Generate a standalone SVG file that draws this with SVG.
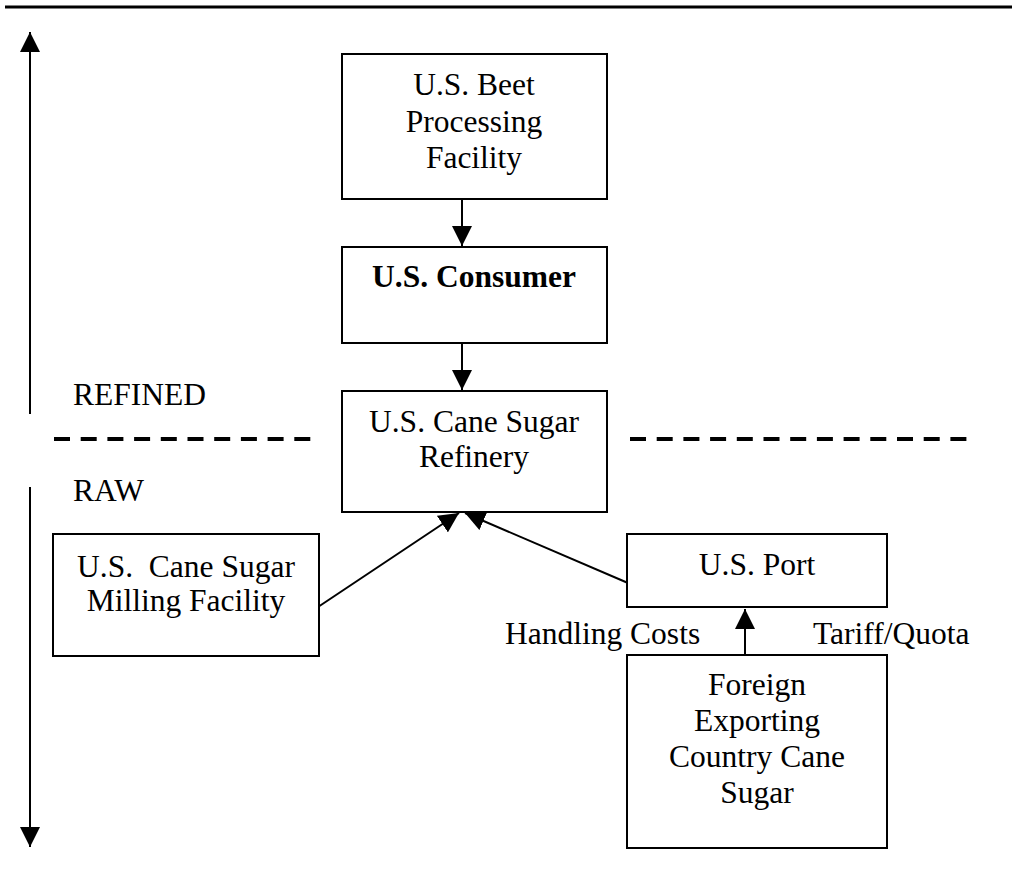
<svg xmlns="http://www.w3.org/2000/svg" width="1012" height="892" viewBox="0 0 1012 892">
<style>
.box{fill:#fff;stroke:#000;stroke-width:2}
.t{font-family:"Liberation Serif","Times New Roman",serif;font-size:31.5px;fill:#000}
.c{text-anchor:middle}
.b{font-weight:bold}
.ln{stroke:#000;stroke-width:2;fill:none}
.dash{stroke:#000;stroke-width:4;stroke-dasharray:16 10.7;fill:none}
</style>
<defs>
<marker id="ah" markerUnits="userSpaceOnUse" markerWidth="20" markerHeight="20" refX="20" refY="10" orient="auto" viewBox="0 0 20 20">
<path d="M0,0 L20,10 L0,20 z" fill="#000"/>
</marker>
</defs>
<line x1="5" y1="7" x2="1012" y2="7" stroke="#000" stroke-width="3"/>
<g id="scale-arrows">
<line class="ln" x1="30" y1="414" x2="30" y2="32" marker-end="url(#ah)"/>
<line class="ln" x1="30" y1="487" x2="30" y2="847" marker-end="url(#ah)"/>
</g>
<text class="t" x="73" y="405">REFINED</text>
<text class="t" x="73" y="501">RAW</text>
<g id="dividers">
<line class="dash" x1="54" y1="439" x2="312" y2="439"/>
<line class="dash" x1="630" y1="439" x2="968" y2="439"/>
</g>
<g id="connectors">
<line class="ln" x1="462" y1="199" x2="462" y2="246" marker-end="url(#ah)"/>
<line class="ln" x1="462" y1="343" x2="462" y2="390" marker-end="url(#ah)"/>
<line class="ln" x1="318" y1="607" x2="459" y2="513" marker-end="url(#ah)"/>
<line class="ln" x1="628" y1="583" x2="465" y2="513" marker-end="url(#ah)"/>
<line class="ln" x1="745" y1="655" x2="745" y2="609" marker-end="url(#ah)"/>
</g>
<g id="beet">
<rect class="box" x="342" y="54" width="265" height="145"/>
<text class="t c" x="474" y="95">U.S. Beet</text>
<text class="t c" x="474" y="131.5">Processing</text>
<text class="t c" x="474" y="168">Facility</text>
</g>
<g id="consumer">
<rect class="box" x="342" y="247" width="265" height="96"/>
<text class="t c b" x="474" y="287">U.S. Consumer</text>
</g>
<g id="refinery">
<rect class="box" x="342" y="391" width="265" height="121"/>
<text class="t c" x="474" y="432">U.S. Cane Sugar</text>
<text class="t c" x="474" y="467">Refinery</text>
</g>
<g id="milling">
<rect class="box" x="53" y="534" width="266" height="122"/>
<text class="t c" x="186" y="577" xml:space="preserve">U.S.  Cane Sugar</text>
<text class="t c" x="186" y="611">Milling Facility</text>
</g>
<g id="port">
<rect class="box" x="627" y="534" width="260" height="73"/>
<text class="t c" x="757" y="575">U.S. Port</text>
</g>
<text class="t" x="505" y="644">Handling Costs</text>
<text class="t" x="813" y="644">Tariff/Quota</text>
<g id="foreign">
<rect class="box" x="627" y="655" width="260" height="193"/>
<text class="t c" x="757" y="695">Foreign</text>
<text class="t c" x="757" y="731">Exporting</text>
<text class="t c" x="757" y="767">Country Cane</text>
<text class="t c" x="757" y="803">Sugar</text>
</g>
</svg>
